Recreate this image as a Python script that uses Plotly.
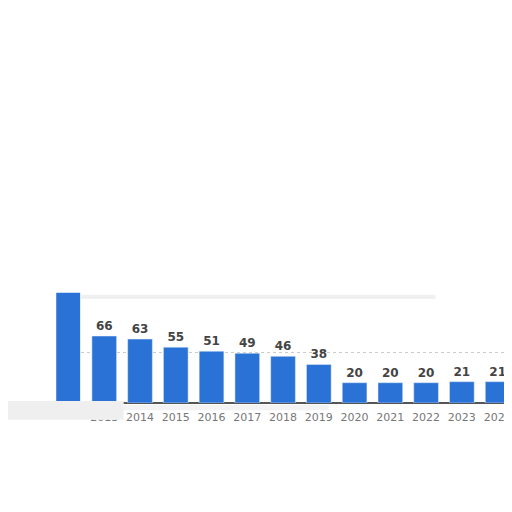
import plotly.graph_objects as go

# values
years = ['2013', '2014', '2015', '2016', '2017', '2018', '2019',
         '2020', '2021', '2022', '2023', '2024']
values = [66, 63, 55, 51, 49, 46, 38, 20, 20, 20, 21, 21]

bar_color = '#2a72d5'

fig = go.Figure()

fig.add_trace(go.Bar(x=years, y=values, marker_color=bar_color,
                     text=values, textposition='outside', cliponaxis=False,
                     textfont=dict(family='DejaVu Sans', size=12, color='#444444'),
                     texttemplate='<b>%{text}</b>', showlegend=False))

# the blue tab on the left edge of the panel and its top rim
fig.add_shape(type='rect', xref='paper', yref='paper',
              x0=-0.058, x1=-0.002, y0=0.0, y1=1.06,
              fillcolor=bar_color, line_width=0, layer='above')
fig.add_shape(type='rect', xref='paper', yref='paper',
              x0=0.0, x1=0.83, y0=1.0, y1=1.04,
              fillcolor='#f0f0f0', line_width=0)
# grey smear over the left end of the axis
fig.add_shape(type='rect', xref='paper', yref='paper',
              x0=-0.19, x1=0.1, y0=0.02, y1=-0.16,
              fillcolor='#efefef', opacity=1, line_width=0, layer='above')
fig.add_shape(type='rect', xref='paper', yref='paper',
              x0=0.1, x1=0.58, y0=-0.02, y1=-0.07,
              fillcolor='#e8e8e8', opacity=0.5, line_width=0, layer='below')

fig.update_layout(
    width=512, height=496, autosize=False,
    margin=dict(l=73, r=8, t=291, b=101),
    paper_bgcolor='white', plot_bgcolor='white',
    bargap=0.31,
    font=dict(family='DejaVu Sans', color='#666666'),
)
fig.update_xaxes(range=[-0.65, 11.29], showgrid=False, ticks='',
                 tickfont=dict(size=11, color='#777777'),
                 ticklabelstandoff=6, showline=False)
fig.update_yaxes(range=[0, 102.5], tickvals=[50], showticklabels=False,
                 showgrid=True, gridcolor='#cccccc', griddash='dot', gridwidth=1,
                 zeroline=True, zerolinecolor='#555555', zerolinewidth=2)

fig.write_html('out.html', config={'responsive': False})
